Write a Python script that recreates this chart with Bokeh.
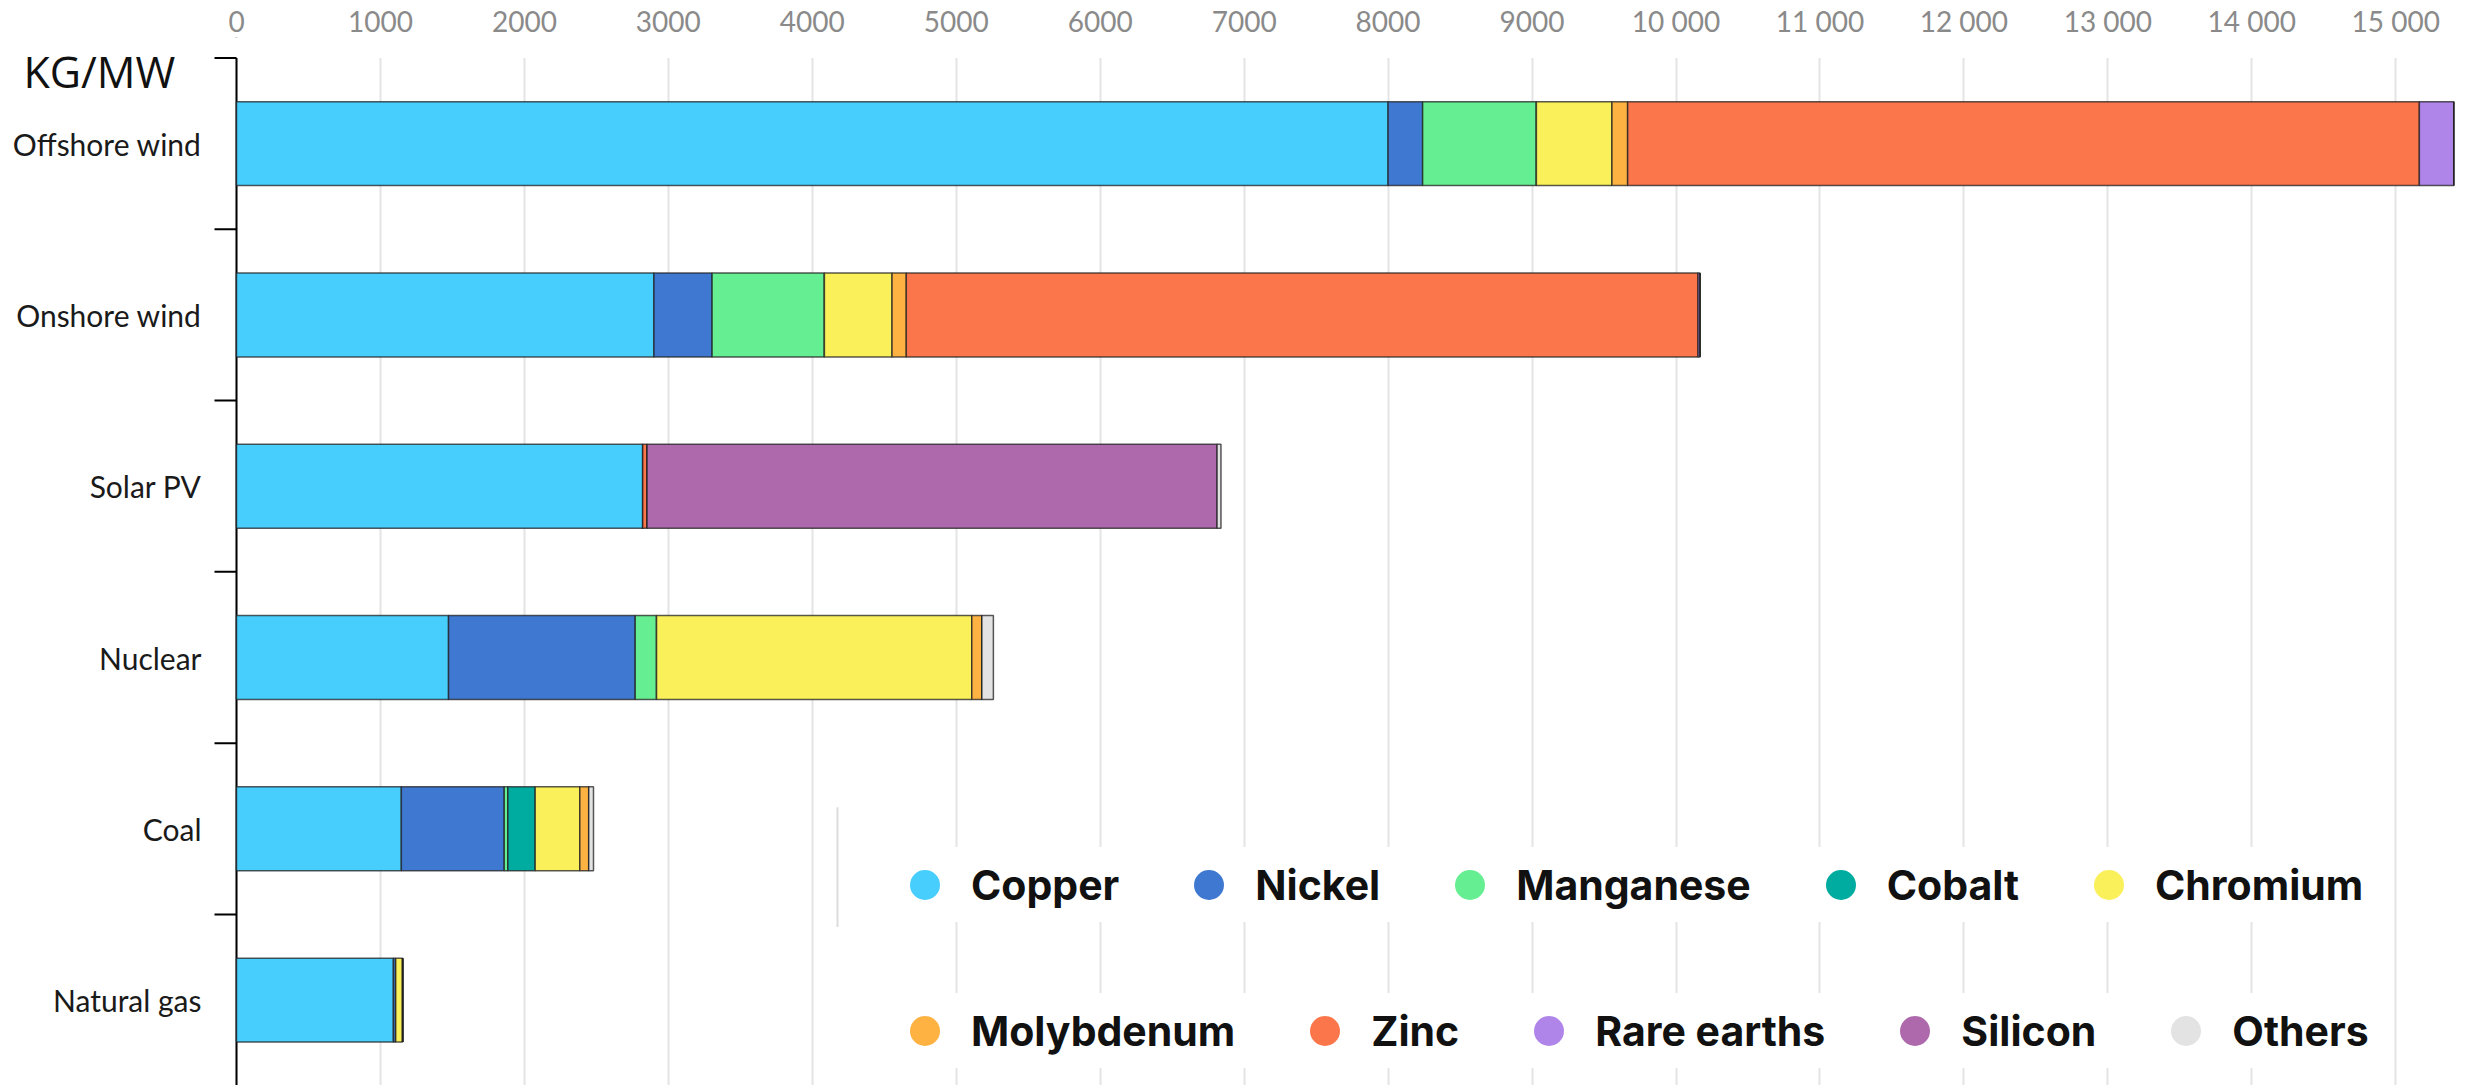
import math
from bokeh.plotting import figure
from bokeh.models import (Range1d, FixedTicker, Legend, LegendItem, Span,
                          ColumnDataSource, Label, BoxAnnotation)
from bokeh.core.properties import value
from bokeh.embed import file_html
from bokeh.resources import INLINE

# ---------------- data (kg per MW) ----------------
categories = ["Offshore wind", "Onshore wind", "Solar PV", "Nuclear", "Coal", "Natural gas"]
minerals = ["Copper", "Nickel", "Manganese", "Cobalt", "Chromium",
            "Molybdenum", "Zinc", "Rare earths", "Silicon", "Others"]
copper = [8000, 2900, 2822, 1473, 1145, 1090]
nickel = [240, 404, 0, 1297, 715, 16]
manganese = [790, 780, 0, 148, 25, 0]
cobalt = [0, 0, 0, 0, 190, 0]
chromium = [525, 470, 0, 2190, 310, 48]
molybdenum = [109, 99, 0, 70, 62, 0]
zinc = [5500, 5500, 30, 0, 0, 0]
rare_earths = [239, 14, 0, 0, 0, 0]
silicon = [0, 0, 3960, 0, 0, 0]
others = [0, 0, 27, 80, 33, 0]
colors = ["#47CEFD", "#3F78D1", "#66EE92", "#00ABA0", "#FAF059",
          "#FDB242", "#FB764A", "#AF85EA", "#AE69AD", "#E3E3E3"]
x_ticks = [0, 1000, 2000, 3000, 4000, 5000, 6000, 7000, 8000, 9000,
           10000, 11000, 12000, 13000, 14000, 15000]
x_tick_labels = ["0", "1000", "2000", "3000", "4000", "5000", "6000", "7000", "8000",
                 "9000", "10 000", "11 000", "12 000", "13 000", "14 000", "15 000"]
unit_label = "KG/MW"

series = [copper, nickel, manganese, cobalt, chromium, molybdenum,
          zinc, rare_earths, silicon, others]
n = len(categories)
y_pos = [n - 1 - i for i in range(n)]           # top category first
data = {"y": y_pos, "zero": [0] * n, "name": categories}
for m, s in zip(minerals, series):
    data[m] = s
source = ColumnDataSource(data)

# ---------------- layout constants (pixels) ----------------
W, H = 2465, 1085
axis_px = 236            # pixel position of the value 0 from the left edge
px_per_unit = 0.14395    # pixels per kg/MW
frame_top = 34
band_px = 171.8
top_px = 54.5            # pixel position of the top category boundary
tick_len = 22
x_lo = -axis_px / px_per_unit
x_hi = (W - axis_px) / px_per_unit
y_top = (n - 0.5) + (top_px - frame_top) / band_px
y_lo = (n - 0.5) - (H - top_px) / band_px

def px_to_x(px):
    return (px - axis_px) / px_per_unit

def px_to_y(py):
    return (n - 0.5) - (py - top_px) / band_px

p = figure(width=W, height=H, output_backend="svg", toolbar_location=None,
           x_range=Range1d(x_lo, x_hi), y_range=Range1d(y_lo, y_top),
           x_axis_location="above", y_axis_location=None,
           min_border_left=0, min_border_right=0, min_border_bottom=0,
           min_border_top=frame_top)
p.outline_line_color = None
p.background_fill_color = "white"

# grid
p.xgrid.ticker = FixedTicker(ticks=x_ticks)
p.xgrid.grid_line_color = "#e4e4e4"
p.xgrid.grid_line_width = 2
p.ygrid.grid_line_color = None

# value-axis line at 0
p.add_layout(Span(location=0, dimension="height", line_color="black",
                  line_width=2, level="underlay"))
# keep the strip above the top category boundary empty
p.add_layout(BoxAnnotation(bottom=n - 0.5, fill_color="white", fill_alpha=1.0,
                           line_color=None, level="underlay"))

# category boundary ticks (pointing left of the axis)
boundaries = [k + 0.5 for k in range(n)]
tick_src = ColumnDataSource({"b": boundaries, "x0": [0] * n,
                             "x1": [-tick_len / px_per_unit] * n})
p.segment(x0="x0", y0="b", x1="x1", y1="b", source=tick_src,
          line_color="black", line_width=2)

p.hbar_stack(minerals, y="y", height=0.49, color=colors, source=source,
             line_color="#222222", line_width=1.5, line_alpha=0.75)

# category labels left of the value axis
p.text(x="zero", y="y", text="name", source=source, x_offset=-35,
       text_align="right", text_baseline="middle",
       text_font=value("Lato"), text_font_size=value("30px"), text_color="#1a1a1a")

# x axis (top)
xa = p.xaxis[0]
xa.ticker = FixedTicker(ticks=x_ticks)
xa.major_label_overrides = {t: l for t, l in zip(x_ticks, x_tick_labels)}
xa.axis_line_color = None
xa.major_tick_line_color = None
xa.minor_tick_line_color = None
xa.major_tick_out = 0
xa.major_tick_in = 0
xa.major_label_text_font = "Lato"
xa.major_label_text_font_size = "28px"
xa.major_label_text_color = "#8a8a8a"
xa.major_label_standoff = 0

# unit label
p.add_layout(Label(x=23, y=H - 71, x_units="screen", y_units="screen", text=unit_label,
                   text_font="Open Sans", text_font_size="43px", text_color="#111111",
                   text_baseline="alphabetic", text_align="left"))

# thin grey rule at the left of the first legend row
p.add_layout(BoxAnnotation(left=px_to_x(836), right=px_to_x(838),
                           top=px_to_y(806), bottom=px_to_y(926),
                           fill_color="#dcdcdc", fill_alpha=1.0, line_color=None))

# legend (two rows of circle markers)
dummies = [p.scatter(x=[math.nan], y=[math.nan], marker="circle",
                     fill_color=c, line_color=None) for c in colors]

def make_legend(idx, loc):
    items = [LegendItem(label=minerals[i], renderers=[dummies[i]]) for i in idx]
    return Legend(items=items, orientation="horizontal", location=loc,
                  label_text_font="Inter", label_text_font_style="bold",
                  label_text_font_size="41px", label_text_color="#111111",
                  glyph_width=75, glyph_height=75, label_standoff=9, spacing=52,
                  padding=22, margin=0, border_line_color=None,
                  background_fill_color="white", background_fill_alpha=1.0)

p.add_layout(make_legend(range(0, 5), (887, 163)))
p.add_layout(make_legend(range(5, 10), (887, 17)))

open("out.html", "w").write(file_html(p, INLINE))
